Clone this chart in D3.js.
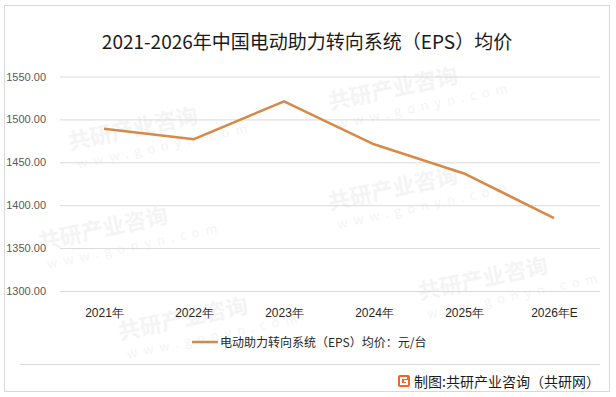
<!DOCTYPE html>
<html>
<head>
<meta charset="utf-8">
<script src="https://cdn.jsdelivr.net/npm/d3@7"></script>
<style>
  body { margin: 0; background: #fff; }
  svg { display: block; font-family: "Noto Sans CJK SC", "Noto Sans", sans-serif; }
</style>
</head>
<body>
<svg width="616" height="397"></svg>
<script>
// chart data
const years = ["2021年", "2022年", "2023年", "2024年", "2025年", "2026年E"];
const prices = [1489, 1477, 1521, 1471, 1437, 1385];
const yTicks = [1300, 1350, 1400, 1450, 1500, 1550];

const svg = d3.select("svg");

// frame
svg.append("rect")
  .attr("x", 4.5).attr("y", 5.5)
  .attr("width", 605).attr("height", 386)
  .attr("fill", "#fff")
  .attr("stroke", "#d9d9d9");

// faint watermarks, kept inside the frame
const wm = svg.append("g").attr("pointer-events", "none");
const tiles = [[70, 150], [330, 110], [40, 250], [330, 210], [120, 340], [420, 300]];
tiles.forEach(([tx, ty]) => {
  const t = wm.append("g").attr("transform", `translate(${tx},${ty}) rotate(-12)`);
  t.append("text").attr("font-size", 22).attr("font-weight", "bold")
    .attr("fill", "#f4f4f4").text("共研产业咨询");
  t.append("text").attr("y", 20).attr("x", 4).attr("font-size", 13)
    .attr("fill", "#f4f4f4").attr("letter-spacing", 6).text("www.gonyn.com");
});

// scales
const x = d3.scalePoint().domain(years).range([59, 599]).padding(0.5);
const y = d3.scaleLinear().domain([1300, 1550]).range([291, 76.5]);

// grid + y labels
const yAxis = svg.append("g")
  .attr("transform", "translate(60,0)")
  .call(d3.axisLeft(y).tickValues(yTicks).tickFormat(d3.format(".2f")).tickSize(-540).tickPadding(14));
yAxis.select(".domain").remove();
yAxis.selectAll(".tick line").attr("stroke", "#d9d9d9");
yAxis.selectAll(".tick text")
  .attr("fill", "#595959").attr("font-size", 11)
  .attr("font-family", "'Liberation Sans', Arial, sans-serif");

// x labels
const xAxis = svg.append("g")
  .attr("transform", "translate(0,291)")
  .call(d3.axisBottom(x).tickSize(0).tickPadding(17));
xAxis.select(".domain").remove();
xAxis.selectAll(".tick text").attr("fill", "#262626").attr("font-size", 12);

// line
const line = d3.line().x((d, i) => x(years[i])).y(d => y(d));
svg.append("path")
  .datum(prices)
  .attr("d", line)
  .attr("fill", "none")
  .attr("stroke", "#d58a48")
  .attr("stroke-width", 2.5)
  .attr("stroke-linejoin", "round");

// title
svg.append("text")
  .attr("x", 307).attr("y", 49)
  .attr("text-anchor", "middle")
  .attr("font-size", 19)
  .attr("fill", "#1a1a1a")
  .text("2021-2026年中国电动助力转向系统（EPS）均价");

// legend
svg.append("line")
  .attr("x1", 192).attr("x2", 218).attr("y1", 342).attr("y2", 342)
  .attr("stroke", "#d58a48").attr("stroke-width", 2.5);
svg.append("text")
  .attr("x", 220).attr("y", 346.5)
  .attr("font-size", 12).attr("fill", "#262626")
  .text("电动助力转向系统（EPS）均价：元/台");

// footer
svg.append("line")
  .attr("x1", 20).attr("x2", 600).attr("y1", 364.5).attr("y2", 364.5)
  .attr("stroke", "#d9d9d9");
const logo = svg.append("g").attr("transform", "translate(398,375)");
logo.append("rect").attr("width", 12).attr("height", 12).attr("rx", 2).attr("fill", "#f26522");
logo.append("path").attr("d", "M9,3 H3 V9 H9 V6 H6").attr("fill", "none").attr("stroke", "#fff").attr("stroke-width", 2);
svg.append("text")
  .attr("x", 600).attr("y", 386.5)
  .attr("text-anchor", "end")
  .attr("font-size", 14).attr("fill", "#1a1a1a")
  .text("制图:共研产业咨询（共研网）");
</script>
</body>
</html>
